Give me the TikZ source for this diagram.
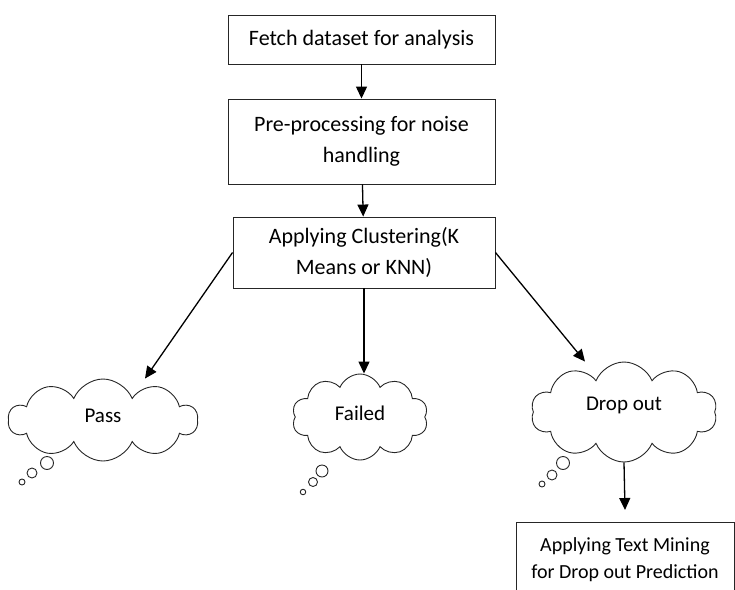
\documentclass[tikz,border=0pt]{standalone}
\usepackage{fontspec}
\setmainfont{Carlito}
\usetikzlibrary{shapes.symbols,arrows.meta,calc}
\begin{document}
\begin{tikzpicture}[x=1pt,y=-1pt,
  box/.style={draw=black!85,line width=0.9pt,rectangle,align=center,inner sep=0pt,
    font=\fontsize{22}{31}\selectfont},
  thought/.style={cloud,cloud ignores aspect,draw=black!85,line width=0.9pt,cloud puffs=10,
    cloud puff arc=135,inner sep=0pt,align=center,
    font=\fontsize{21}{24}\selectfont},
  bub/.style={circle,draw=black!85,line width=0.9pt,inner sep=0pt},
  arr/.style={line width=1.3pt,-{Triangle[length=12pt,width=11pt]}}]
\useasboundingbox (0,0) rectangle (735,589);
\node[box,minimum width=267,minimum height=49] (fetch) at (361.5,39.5) {Fetch dataset for analysis};
\node[box,minimum width=267,minimum height=85] (pre) at (361.5,141.5) {Pre-processing for noise\\handling};
\node[box,minimum width=262,minimum height=71] (clu) at (364,252.5) {Applying Clustering(K\\Means or KNN)};
\node[thought,minimum width=189,minimum height=82] (pass) at (103,420) {\raisebox{9pt}{Pass}};
\node[thought,minimum width=136,minimum height=86] (fail) at (360,417) {\raisebox{7pt}{Failed}};
\node[thought,minimum width=186,minimum height=100] (drop) at (624,412) {\raisebox{17pt}{Drop out}};
\node[bub,minimum size=13] (p1) at (47,463) {};
\node[bub,minimum size=10] (p2) at (32,473) {};
\node[bub,minimum size=6] (p3) at (22,482) {};
\node[bub,minimum size=12] (f1) at (322,471) {};
\node[bub,minimum size=9] (f2) at (313,482) {};
\node[bub,minimum size=5.5] (f3) at (303,492) {};
\node[bub,minimum size=13] (d1) at (563,463) {};
\node[bub,minimum size=10] (d2) at (552,475) {};
\node[bub,minimum size=6] (d3) at (542,484) {};
\node[box,minimum width=218,minimum height=76,font=\fontsize{20}{27}\selectfont] (tm) at (625,560) {Applying Text Mining\\for Drop out Prediction};
\coordinate (dropend) at (625,510);
\draw[arr] (fetch) -- (pre);
\draw[arr] (pre) -- (clu);
\draw[arr] (clu.west) -- ($(pass.north)+(42,0)$);
\draw[arr] (clu.south) -- (clu.south |- fail.north);
\draw[arr] (clu.east) -- ($(drop.north)+(-39,0)$);
\draw[arr] (drop.south) -- (dropend);
\end{tikzpicture}
\end{document}
